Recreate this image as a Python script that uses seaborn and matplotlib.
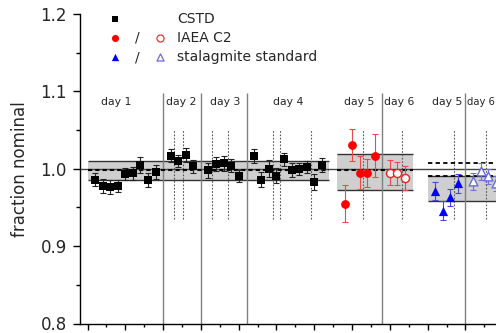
import matplotlib
matplotlib.use("Agg")
import numpy as np
import pandas as pd
import matplotlib.pyplot as plt
import seaborn as sns

# CSTD runs (days 1-4)
cstd_x = [1, 2, 3, 4, 5, 6, 7, 8, 9,
          11, 12, 13, 14,
          16, 17, 18, 19, 20,
          22, 23, 24, 25, 26, 27, 28, 29, 30, 31]
cstd_y = [0.986, 0.978, 0.977, 0.978, 0.993, 0.994, 1.005, 0.985, 0.996,
          1.017, 1.010, 1.018, 1.003,
          0.998, 1.006, 1.007, 1.004, 0.991,
          1.017, 0.986, 1.000, 0.991, 1.012, 0.998, 1.000, 1.002, 0.983, 1.005]
cstd_err = [0.008, 0.009, 0.009, 0.008, 0.008, 0.008, 0.010, 0.009, 0.009,
            0.008, 0.008, 0.009, 0.008,
            0.010, 0.009, 0.010, 0.008, 0.008,
            0.009, 0.010, 0.011, 0.010, 0.009, 0.009, 0.008, 0.008, 0.010, 0.009]

# IAEA C2 (day 5 filled, day 6 open)
iaea_x = [34, 35, 36, 37, 38]
iaea_y = [0.955, 1.031, 0.995, 0.995, 1.017]
iaea_err = [0.024, 0.021, 0.021, 0.018, 0.028]
iaea_open_x = [40, 41, 42]
iaea_open_y = [0.995, 0.994, 0.988]
iaea_open_err = [0.016, 0.015, 0.016]

# stalagmite standard (day 5 filled, day 6 open)
stal_x = [46, 47, 48, 49]
stal_y = [0.971, 0.946, 0.963, 0.981]
stal_err = [0.012, 0.012, 0.011, 0.012]
stal_open_x = [51, 52, 53, 54]
stal_open_y = [0.984, 0.997, 0.990, 0.981]
stal_open_err = [0.011, 0.011, 0.010, 0.010]

# reference bands: (x start, x end, low, high)
band_cstd = (0, 32, 0.986, 1.010)
band_iaea = (33, 43, 0.973, 1.019)
band_stal = (45, 62, 0.958, 0.991)
mean_cstd = 0.999
mean_iaea = 0.999
dash_stal = [0.991, 1.007]

day_edges = [10, 15, 21.15, 39, 50]
dotted_x = [11.5, 12.6, 16.5, 18.6, 24.6, 25.5, 29.6, 36.5, 41.6, 48.5, 52.7]
day_labels = ["day 1", "day 2", "day 3", "day 4", "day 5", "day 6", "day 5"]
day_label_x = [3.84, 12.4, 18.2, 26.5, 35.9, 41.2, 47.55]

sns.set_style("ticks")
plt.rcParams["font.family"] = ["DejaVu Sans"]

fig = plt.figure(figsize=(4.96, 3.33), dpi=100)
ax = fig.add_axes([80 / 496, 9.5 / 333, 461 / 496, 309.5 / 333])
ax.set_xlim(-1, 60)
ax.set_ylim(0.8, 1.2)

# bands
for x0, x1, lo, hi in [band_cstd, band_iaea, band_stal]:
    ax.fill_between([x0, x1], lo, hi, color="#cfcfcf", lw=0, zorder=1)
    ax.hlines([lo, hi], x0, x1, color="#333333", lw=1.0, zorder=2)

ax.axhline(1.0, color="#444444", lw=1.0, zorder=2)
ax.hlines(mean_cstd, band_cstd[0], band_cstd[1], color="black", lw=1.5,
          linestyles=(0, (2, 1.5)), zorder=3)
ax.hlines(mean_iaea, band_iaea[0], band_iaea[1], color="black", lw=1.5,
          linestyles=(0, (2, 1.5)), zorder=3)
ax.hlines(dash_stal, band_stal[0], band_stal[1], color="black", lw=1.3,
          linestyles=(0, (2.4, 1.8)), zorder=3)

ax.vlines(day_edges, 0.8, 1.098, color="#808080", lw=1.0, zorder=2)
ax.vlines(dotted_x, 0.935, 1.05, color="#555555", lw=0.8,
          linestyles=(0, (1.5, 1.5)), zorder=2)

for lab, lx in zip(day_labels, day_label_x):
    ax.text(lx, 1.086, lab, ha="center", va="center", fontsize=7.8)
# last label sits against the right edge of the figure
ax.text(50.25, 1.086, "day 6", ha="left", va="center", fontsize=7.2)

# error bars
eb = dict(fmt="none", elinewidth=0.8, capsize=2.5, capthick=0.8, zorder=4)
ax.errorbar(cstd_x, cstd_y, yerr=cstd_err, ecolor="#222222", **eb)
ax.errorbar(iaea_x, iaea_y, yerr=iaea_err, ecolor="#e84a4a", **eb)
ax.errorbar(iaea_open_x, iaea_open_y, yerr=iaea_open_err, ecolor="#e84a4a", **eb)
ax.errorbar(stal_x, stal_y, yerr=stal_err, ecolor="#4848e0", **eb)
ax.errorbar(stal_open_x, stal_open_y, yerr=stal_open_err, ecolor="#7070e0", **eb)

# markers
sns.scatterplot(x=cstd_x, y=cstd_y, marker="s", s=36, color="black",
                linewidth=0, ax=ax, zorder=5)
sns.scatterplot(x=iaea_x, y=iaea_y, marker="o", s=40, color="#ff0000",
                linewidth=0, ax=ax, zorder=5)
sns.scatterplot(x=iaea_open_x, y=iaea_open_y, marker="o", s=34, color="white",
                edgecolor="#ee2222", linewidth=1.0, ax=ax, zorder=5)
sns.scatterplot(x=stal_x, y=stal_y, marker="^", s=44, color="#0000ff",
                linewidth=0, ax=ax, zorder=5)
sns.scatterplot(x=stal_open_x, y=stal_open_y, marker="^", s=40, color="white",
                edgecolor="#6a6ae0", linewidth=1.0, ax=ax, zorder=5)

# hand-made legend
ax.scatter([3.66], [1.1931], marker="s", s=22, color="black", lw=0)
ax.scatter([3.66], [1.169], marker="o", s=26, color="#ff0000", lw=0)
ax.scatter([9.52], [1.169], marker="o", s=26, facecolor="white",
           edgecolor="#ee3333", lw=0.9)
ax.scatter([3.66], [1.1443], marker="^", s=28, color="#0000ff", lw=0)
ax.scatter([9.52], [1.1443], marker="^", s=26, facecolor="white",
           edgecolor="#6a6ae0", lw=0.9)
ax.text(6.61, 1.169, "/", ha="center", va="center", fontsize=10)
ax.text(6.61, 1.1443, "/", ha="center", va="center", fontsize=10)
for ty, lab in zip([1.1931, 1.169, 1.1443], ["CSTD", "IAEA C2", "stalagmite standard"]):
    ax.text(11.9, ty, lab, ha="left", va="center", fontsize=10)

# axes styling
ax.spines["top"].set_visible(False)
ax.spines["right"].set_visible(False)
for s in ["left", "bottom"]:
    ax.spines[s].set_linewidth(1.0)
    ax.spines[s].set_color("black")
ax.set_yticks([0.8, 0.9, 1.0, 1.1, 1.2])
ax.set_yticklabels(["0.8", "0.9", "1.0", "1.1", "1.2"], fontsize=12)
ax.set_yticks(np.arange(0.85, 1.2, 0.1), minor=True)
ax.set_xticks(np.arange(0, 60, 5))
ax.set_xticks(np.arange(2.5, 60, 5), minor=True)
ax.set_xticklabels([])
ax.tick_params(axis="y", which="major", length=5, width=1.0, pad=4.5, color="black")
ax.tick_params(axis="y", which="minor", length=3, width=1.0, color="black")
ax.tick_params(axis="x", which="major", length=4, width=1.0, color="black")
ax.tick_params(axis="x", which="minor", length=2.2, width=1.0, color="black")
ax.set_ylabel("fraction nominal", fontsize=12, labelpad=8)
ax.set_xlabel("")

fig.savefig("out.png", dpi=100)
